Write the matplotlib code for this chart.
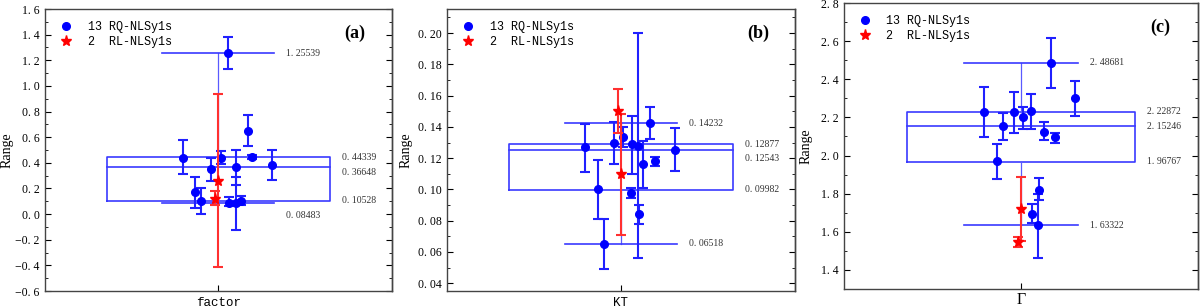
import numpy as np
import matplotlib
matplotlib.use('Agg')
import matplotlib.pyplot as plt
from matplotlib.lines import Line2D
from matplotlib.ticker import MultipleLocator, FuncFormatter

plt.rcParams['font.family'] = ['Liberation Serif', 'DejaVu Serif']

# shared horizontal jitter of the sources (centre of category = 0)
x_rq = [-0.206, -0.133, -0.099, -0.041, 0.013, 0.055, 0.063, 0.099, 0.104, 0.128, 0.169, 0.194, 0.308]
x_rl = [-0.019, 0.0]

# (a) factor
a_y = [0.44, 0.17, 0.10, 0.35, 0.44, 1.255, 0.09, 0.085, 0.365, 0.10, 0.645, 0.445, 0.38]
a_lo = [0.31, 0.05, 0.00, 0.26, 0.39, 1.13, 0.06, -0.12, 0.23, 0.07, 0.53, 0.43, 0.27]
a_hi = [0.58, 0.29, 0.20, 0.44, 0.49, 1.38, 0.13, 0.29, 0.50, 0.14, 0.77, 0.46, 0.50]
a_rl_y = [0.12, 0.26]
a_rl_lo = [0.07, -0.41]
a_rl_hi = [0.18, 0.94]
a_stats = [0.08483, 0.10528, 0.36648, 0.44339, 1.25539]  # min, q1, median, q3, max

# (b) KT
b_y = [0.127, 0.100, 0.065, 0.1295, 0.1335, 0.098, 0.129, 0.128, 0.084, 0.1165, 0.1423, 0.1183, 0.1255]
b_lo = [0.111, 0.081, 0.049, 0.116, 0.127, 0.0945, 0.110, 0.056, 0.078, 0.101, 0.132, 0.115, 0.112]
b_hi = [0.142, 0.119, 0.081, 0.143, 0.140, 0.101, 0.147, 0.200, 0.090, 0.131, 0.1525, 0.121, 0.139]
b_rl_y = [0.150, 0.110]
b_rl_lo = [0.136, 0.071]
b_rl_hi = [0.164, 0.148]
b_stats = [0.06518, 0.09982, 0.12543, 0.12877, 0.14232]

# (c) Gamma
c_y = [2.23, 1.97, 2.155, 2.23, 2.20, 2.235, 1.695, 1.635, 1.82, 2.125, 2.487, 2.095, 2.30]
c_lo = [2.095, 1.875, 2.08, 2.12, 2.14, 2.14, 1.645, 1.465, 1.765, 2.08, 2.355, 2.065, 2.21]
c_hi = [2.36, 2.06, 2.225, 2.335, 2.255, 2.325, 1.745, 1.80, 1.88, 2.175, 2.615, 2.12, 2.39]
c_rl_y = [1.545, 1.72]
c_rl_lo = [1.52, 1.55]
c_rl_hi = [1.575, 1.89]
c_stats = [1.63322, 1.96767, 2.15246, 2.22872, 2.48681]

# label vertical offsets (points), order: min, q1, median, q3, max
panels = [
    ('factor', '(a)', a_y, a_lo, a_hi, a_rl_y, a_rl_lo, a_rl_hi, a_stats,
     (-0.6, 1.6), 0.2, 0.1, '{:.1f}', [-8.5, 0, -3.5, 0, 0], -0.092),
    ('KT', '(b)', b_y, b_lo, b_hi, b_rl_y, b_rl_lo, b_rl_hi, b_stats,
     (0.035, 0.2155), 0.02, 0.01, '{:.2f}', [0, 0, -6.5, 0, 0], -0.098),
    ('Γ', '(c)', c_y, c_lo, c_hi, c_rl_y, c_rl_lo, c_rl_hi, c_stats,
     (1.3, 2.8), 0.2, 0.1, '{:.1f}', [0, 0, 0, 0, 0], -0.088),
]

positions = [[0.0375, 0.052, 0.289, 0.9186],
             [0.3725, 0.052, 0.290, 0.919],
             [0.7033, 0.0586, 0.295, 0.9316]]

fig = plt.figure(figsize=(12, 3.07), dpi=100)
box_c = '#3a3aff'
box_hw, cap_hw = 0.644, 0.323
mono = ['Liberation Mono', 'DejaVu Sans Mono']

for pos, (xlab, tag, y, lo, hi, ry, rlo, rhi, st, ylim, maj, mnr, fmt, offs, ylx) in zip(positions, panels):
    ax = fig.add_axes(pos)
    mn, q1, med, q3, mx = st
    # box
    ax.plot([-box_hw, box_hw, box_hw, -box_hw, -box_hw], [q1, q1, q3, q3, q1], color=box_c, lw=1.2)
    ax.plot([-box_hw, box_hw], [med, med], color=box_c, lw=1.2)
    # whiskers and caps
    ax.plot([0, 0], [q3, mx], color='#5a5aff', lw=0.9)
    ax.plot([0, 0], [q1, mn], color='#5a5aff', lw=0.9)
    ax.plot([-cap_hw, cap_hw], [mx, mx], color=box_c, lw=1.2)
    ax.plot([-cap_hw, cap_hw], [mn, mn], color=box_c, lw=1.2)

    yv = np.array(y)
    yerr = [yv - np.array(lo), np.array(hi) - yv]
    ax.errorbar(x_rq, yv, yerr=yerr, fmt='o', color='#0000ff', ecolor='#2020ff', ms=5.5,
                elinewidth=1.5, capsize=3.6, capthick=1.5, zorder=4)
    ryv = np.array(ry)
    ryerr = [ryv - np.array(rlo), np.array(rhi) - ryv]
    ax.errorbar(x_rl, ryv, yerr=ryerr, fmt='*', color='#ff0000', ecolor='#ff3030', ms=8,
                elinewidth=1.5, capsize=3.6, capthick=1.5, zorder=5)

    # value labels
    xs = [cap_hw, box_hw, box_hw, box_hw, cap_hw]
    for v, xx, off in zip(st, xs, offs):
        ax.annotate(f'{v:.5f}'.replace('.', '. '), (xx, v), xytext=(8.5, off),
                    textcoords='offset points', va='center', ha='left',
                    fontsize=7, color='#333333')

    ax.set_xlim(-1, 1)
    ax.set_ylim(*ylim)
    ax.set_xticks([0])
    ax.set_xticklabels([''])
    if xlab == 'Γ':
        ax.set_xlabel(xlab, fontsize=11.5, va='top')
        ax.xaxis.set_label_coords(0.5, -0.012)
    else:
        ax.set_xlabel(xlab, fontsize=9, va='top', family=mono)
        ax.xaxis.set_label_coords(0.5, -0.022)
    ax.set_ylabel('Range', fontsize=10)
    ax.yaxis.set_label_coords(ylx, 0.5)
    ax.yaxis.set_major_locator(MultipleLocator(maj))
    ax.yaxis.set_minor_locator(MultipleLocator(mnr))
    ax.yaxis.set_major_formatter(FuncFormatter(lambda v, p, f=fmt: f.format(v).replace('.', '. ').replace('-', '−')))
    ax.tick_params(axis='y', which='both', direction='in', right=False, labelsize=8.5, pad=4)
    ax.tick_params(axis='y', which='major', length=4)
    ax.tick_params(axis='y', which='minor', length=2.5)
    ax.tick_params(axis='x', direction='in', length=4)
    ax2 = ax.secondary_yaxis('right')
    ax2.yaxis.set_major_locator(MultipleLocator(maj))
    ax2.yaxis.set_minor_locator(MultipleLocator(mnr))
    ax2.tick_params(which='both', direction='in', labelright=False)
    ax2.tick_params(which='major', length=4)
    ax2.tick_params(which='minor', length=2.5)
    for s in list(ax.spines.values()) + [ax2.spines['right']]:
        s.set_color('#444444')
        s.set_linewidth(1.0)

    ax.text(0.893, 0.915, tag, transform=ax.transAxes, fontsize=13, fontweight='bold',
            ha='center', va='center')
    handles = [Line2D([], [], ls='none', marker='o', color='#0000ff', ms=5.5),
               Line2D([], [], ls='none', marker='*', color='#ff0000', ms=8)]
    ax.legend(handles, ['13 RQ-NLSy1s', '2  RL-NLSy1s'], loc='upper left', frameon=False,
              handletextpad=1.0, borderaxespad=0.6, labelspacing=0.3, handlelength=1.6,
              prop={'family': mono, 'size': 8.5})

fig.savefig('out.png', dpi=100)
